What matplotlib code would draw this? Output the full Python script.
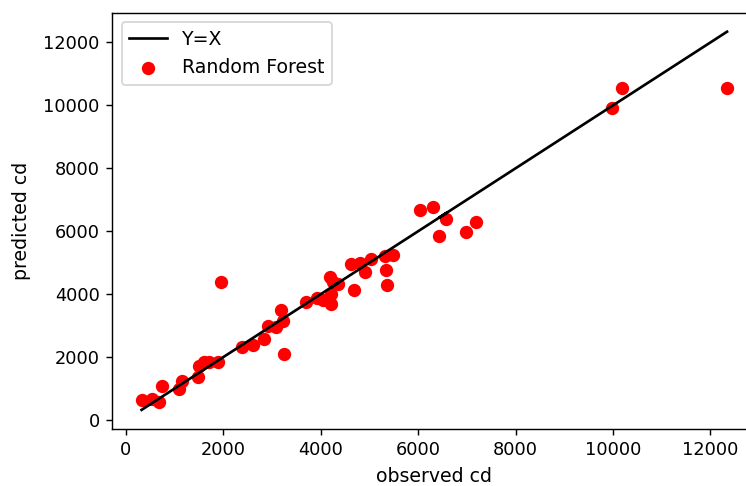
import numpy as np
import matplotlib
matplotlib.use("Agg")
import matplotlib.pyplot as plt

# observed vs predicted values
observed = np.array([320, 540, 680, 730, 1090, 1160, 1470, 1500, 1600, 1710,
                     1880, 1950, 2390, 2600, 2840, 2910, 3080, 3180, 3220, 3250,
                     3700, 3920, 4040, 4180, 4250, 4210, 4350, 4200, 4620, 4690,
                     4800, 4900, 5030, 5310, 5340, 5350, 5480, 6030, 6300, 6580,
                     6430, 6980, 7180, 9970, 10180, 12340], float)
predicted = np.array([620, 670, 560, 1090, 990, 1250, 1360, 1730, 1840, 1840,
                      1840, 4390, 2310, 2370, 2580, 3000, 2950, 3480, 3160, 2100,
                      3750, 3880, 3800, 4540, 4390, 3700, 4330, 4000, 4970, 4140,
                      4980, 4700, 5100, 5200, 4760, 4280, 5240, 6670, 6780, 6400,
                      5840, 5980, 6300, 9910, 10550, 10550], float)

dpi = 128
fig = plt.figure(figsize=(746/dpi, 486/dpi), dpi=dpi)
ax = fig.add_axes([112.3/746, 57.2/486, 644/746, 416/486])

ax.plot(observed, observed, color='k', label="Y=X")
ax.scatter(observed, predicted, color='red', s=42, label="Random Forest")
ax.legend(loc='upper left', fontsize=10.6)
ax.set_xlabel("observed cd", fontsize=10.6, labelpad=4.5)
ax.set_ylabel("predicted cd", fontsize=10.6, labelpad=7)

fig.savefig("out.png", dpi=dpi)
